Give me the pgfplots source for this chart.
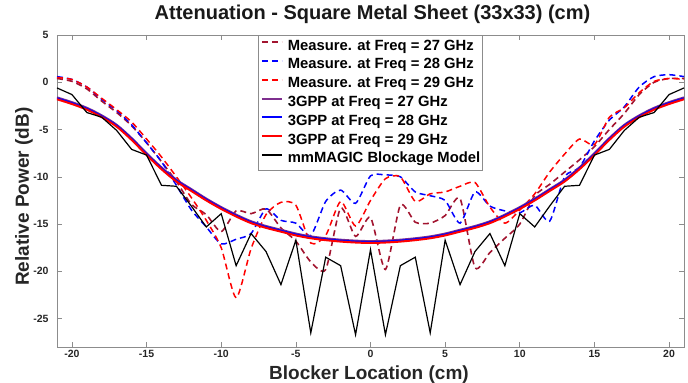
\documentclass[border=0pt]{standalone}
\usepackage{fontspec}
\setmainfont{Liberation Sans}
\usepackage{pgfplots}
\pgfplotsset{compat=1.18}
\definecolor{m27}{rgb}{0.635,0.078,0.184}
\definecolor{p27}{rgb}{0.494,0.184,0.556}
\definecolor{axgray}{gray}{0.55}
\begin{document}
\begin{tikzpicture}
\begin{axis}[
 name=ax,
 scale only axis, width=627bp, height=312bp,
 xmin=-21, xmax=21, ymin=-28, ymax=5,
 xtick={-20,-15,...,20}, ytick={-25,-20,...,5},
 tick align=inside, major tick length=5bp,
 axis line style={axgray, line width=0.6bp},
 every tick/.style={axgray, line width=0.6bp},
 /pgf/number format/assume math mode=true,
 tick label style={font=\fontsize{10.5bp}{12bp}\selectfont\bfseries, text=black!85},
 yticklabel style={xshift=-5bp},
 title={Attenuation - Square Metal Sheet (33x33) (cm)},
 title style={font=\fontsize{20bp}{24bp}\selectfont\bfseries, at={(axis description cs:0.5032,1.032)}, anchor=base, inner sep=0pt, text=black!90},
 xlabel={Blocker Location (cm)}, ylabel={Relative Power (dB)},
 every axis x label/.style={at={(axis description cs:0.4976,-0.1035)}, anchor=base, inner sep=0pt, font=\fontsize{19bp}{22bp}\selectfont\bfseries, text=black!85},
 every axis y label/.style={at={(axis description cs:-0.0447,0.482)}, rotate=90, anchor=base, inner sep=0pt, font=\fontsize{19bp}{22bp}\selectfont\bfseries, text=black!85},
 legend style={at={(axis description cs:0.5,1)}, anchor=north, draw=axgray, line width=0.6bp, fill=white,
   font=\fontsize{14.8bp}{17bp}\selectfont\bfseries, inner xsep=2bp, inner ysep=4bp, row sep=4.9bp,
   nodes={inner sep=0bp, text height=10.8bp, text depth=3.1bp},
   /tikz/every odd column/.append style={column sep=5bp}},
 legend cell align=left,
 legend image code/.code={\draw[#1] (0bp,4bp) -- (20bp,4bp);},
]
% Measured 27 GHz
\addplot[m27, line width=1.6bp, dash pattern=on 6bp off 4bp, smooth, tension=0.4] coordinates {
(-21,0.4) (-20,0.1) (-19,-0.7) (-18,-2.0) (-17,-3.2) (-16,-4.6) (-15,-6.4) (-14,-8.4) (-13,-10.5) (-12,-12.9) (-11,-14.0) (-10,-15.8) (-9,-13.6) (-8,-13.9) (-7,-13.4) (-6,-15.4) (-5,-16.8) (-4,-19.0) (-3,-19.8) (-2,-13.3) (-1,-16.3) (0,-14.3) (1,-19.8) (2,-13.0) (3,-14.8) (4,-14.9) (5,-14.1) (6,-12.3) (7,-19.6) (8,-18.0) (9,-16.5) (10,-15.0) (11,-12.0) (12,-10.8) (13,-9.5) (14,-8.2) (15,-6.8) (16,-5.0) (17,-3.3) (18,-1.3) (19,0.0) (20,0.4) (21,0.4)};
\addlegendentry{Measure. at Freq = 27 GHz}
% Measured 28 GHz
\addplot[blue, line width=1.5bp, dash pattern=on 6bp off 4bp, smooth, tension=0.4] coordinates {
(-21,0.6) (-20,0.3) (-19,-0.5) (-18,-1.8) (-17,-3.0) (-16,-4.5) (-15,-6.4) (-14,-8.4) (-13,-10.9) (-12,-13.5) (-11,-15.3) (-10,-17.1) (-9,-16.6) (-8,-16.0) (-7,-13.4) (-6,-14.6) (-5,-14.9) (-4,-16.2) (-3,-12.6) (-2,-11.4) (-1,-12.8) (0,-9.9) (1,-9.8) (2,-10.0) (3,-11.6) (4,-12.0) (5,-12.5) (6,-14.9) (7,-11.6) (8,-13.1) (9,-13.6) (10,-13.8) (11,-13.0) (12,-14.7) (13,-10.0) (14,-9.0) (15,-6.2) (16,-4.0) (17,-2.6) (18,-0.5) (19,0.6) (20,0.8) (21,0.6)};
\addlegendentry{Measure. at Freq = 28 GHz}
% Measured 29 GHz
\addplot[red, line width=1.5bp, dash pattern=on 6bp off 4bp, smooth, tension=0.4] coordinates {
(-21,0.5) (-20,0.3) (-19,-0.5) (-18,-1.7) (-17,-2.9) (-16,-4.2) (-15,-6.0) (-14,-7.9) (-13,-10.0) (-12,-12.2) (-11,-14.6) (-10,-17.5) (-9,-22.8) (-8,-17.6) (-7,-14.0) (-6,-12.7) (-5,-13.0) (-4,-17.0) (-3,-16.2) (-2,-12.6) (-1,-15.2) (0,-12.5) (1,-10.2) (2,-10.0) (3,-12.6) (4,-11.8) (5,-11.6) (6,-11.0) (7,-10.6) (8,-13.2) (9,-14.9) (10,-13.5) (11,-11.8) (12,-9.5) (13,-7.6) (14,-6.0) (15,-6.6) (16,-3.7) (17,-2.7) (18,-1.1) (19,0.1) (20,0.4) (21,0.3)};
\addlegendentry{Measure. at Freq = 29 GHz}
% 3GPP 27 GHz
\addplot[p27, line width=2bp, smooth] coordinates {
(-21,-1.6) (-20,-2.1) (-19,-2.7) (-18,-3.5) (-17,-4.5) (-16,-5.9) (-15,-7.5) (-14,-9.0) (-13,-10.3) (-12,-11.3) (-11,-12.3) (-10,-13.2) (-9,-14.0) (-8,-14.7) (-7,-15.2) (-6,-15.6) (-5,-16.0) (-4,-16.3) (-3,-16.5) (-2,-16.65) (-1,-16.75) (0,-16.8) (1,-16.75) (2,-16.65) (3,-16.5) (4,-16.3) (5,-16.0) (6,-15.6) (7,-15.2) (8,-14.7) (9,-14.0) (10,-13.2) (11,-12.3) (12,-11.3) (13,-10.3) (14,-9.0) (15,-7.5) (16,-5.9) (17,-4.5) (18,-3.5) (19,-2.7) (20,-2.1) (21,-1.6)};
\addlegendentry{3GPP at Freq = 27 GHz}
% 3GPP 28 GHz
\addplot[blue, line width=2bp, smooth] coordinates {
(-21,-1.7) (-20,-2.2) (-19,-2.8) (-18,-3.6) (-17,-4.6) (-16,-6.0) (-15,-7.6) (-14,-9.1) (-13,-10.4) (-12,-11.4) (-11,-12.4) (-10,-13.3) (-9,-14.1) (-8,-14.8) (-7,-15.3) (-6,-15.7) (-5,-16.1) (-4,-16.4) (-3,-16.6) (-2,-16.75) (-1,-16.85) (0,-16.9) (1,-16.85) (2,-16.75) (3,-16.6) (4,-16.4) (5,-16.1) (6,-15.7) (7,-15.3) (8,-14.8) (9,-14.1) (10,-13.3) (11,-12.4) (12,-11.4) (13,-10.4) (14,-9.1) (15,-7.6) (16,-6.0) (17,-4.6) (18,-3.6) (19,-2.8) (20,-2.2) (21,-1.7)};
\addlegendentry{3GPP at Freq = 28 GHz}
% 3GPP 29 GHz
\addplot[red, line width=2bp, smooth] coordinates {
(-21,-1.8) (-20,-2.3) (-19,-2.9) (-18,-3.7) (-17,-4.7) (-16,-6.1) (-15,-7.7) (-14,-9.2) (-13,-10.5) (-12,-11.5) (-11,-12.5) (-10,-13.4) (-9,-14.2) (-8,-14.9) (-7,-15.4) (-6,-15.8) (-5,-16.2) (-4,-16.5) (-3,-16.7) (-2,-16.85) (-1,-16.95) (0,-17.0) (1,-16.95) (2,-16.85) (3,-16.7) (4,-16.5) (5,-16.2) (6,-15.8) (7,-15.4) (8,-14.9) (9,-14.2) (10,-13.4) (11,-12.5) (12,-11.5) (13,-10.5) (14,-9.2) (15,-7.7) (16,-6.1) (17,-4.7) (18,-3.7) (19,-2.9) (20,-2.3) (21,-1.8)};
\addlegendentry{3GPP at Freq = 29 GHz}
% mmMAGIC
\addplot[black, line width=1.2bp] coordinates {
(-21,-0.6) (-20,-1.3) (-19,-3.2) (-18,-3.7) (-17,-5.1) (-16,-7.1) (-15,-7.7) (-14,-10.9) (-13,-11.0) (-12,-13.1) (-11,-15.3) (-10,-13.9) (-9,-19.4) (-8,-16.0) (-7,-17.9) (-6,-21.4) (-5,-16.7) (-4,-26.5) (-3,-18.5) (-2,-19.4) (-1,-26.7) (0,-17.7) (1,-26.7) (2,-19.4) (3,-18.5) (4,-26.5) (5,-16.7) (6,-21.4) (7,-17.9) (8,-16.0) (9,-19.4) (10,-13.9) (11,-15.3) (12,-13.1) (13,-11.0) (14,-10.9) (15,-7.7) (16,-7.1) (17,-5.1) (18,-3.7) (19,-3.2) (20,-1.3) (21,-0.6)};
\addlegendentry{mmMAGIC Blockage Model}
\end{axis}
\pgfresetboundingbox
\path[use as bounding box] ([shift={(-57bp,-36bp)}]ax.south west) rectangle ([shift={(4bp,35bp)}]ax.north east);
\end{tikzpicture}
\end{document}
